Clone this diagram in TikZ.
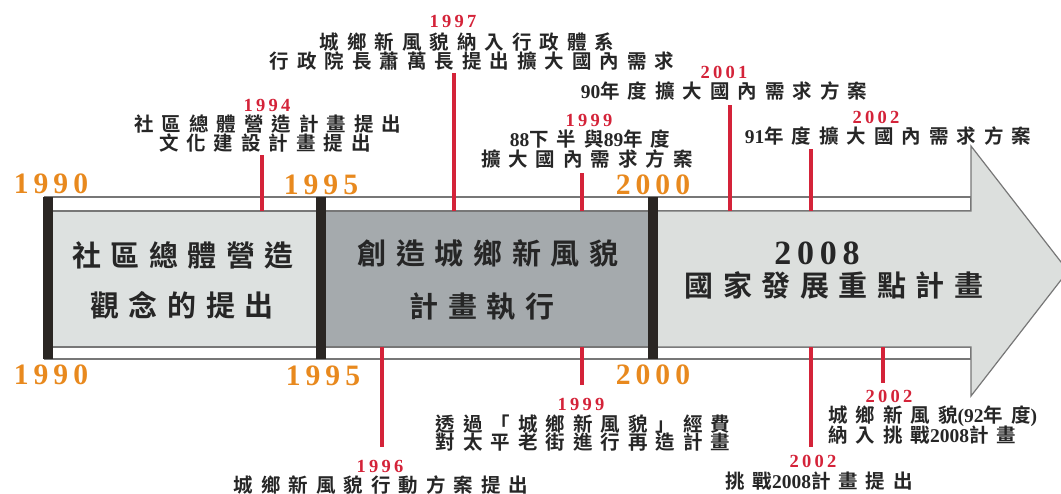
\documentclass[tikz,border=0pt]{standalone}
\usepackage{fontspec}
\newfontfamily\cjkS[LetterSpace=41]{Noto Sans CJK TC Bold}
\newfontfamily\cjkL[LetterSpace=33]{Noto Sans CJK TC Bold}
\newfontfamily\yrO[LetterSpace=17]{Liberation Serif Bold}
\newfontfamily\yrR[LetterSpace=18]{Liberation Serif Bold}
\newfontfamily\dgt{Liberation Serif Bold}
\definecolor{tred}{HTML}{D42339}
\definecolor{torange}{HTML}{E8891E}
\definecolor{tdark}{HTML}{262626}
\definecolor{segA}{HTML}{DDE1E0}
\definecolor{segB}{HTML}{A5AAAD}
\definecolor{segC}{HTML}{DCDFDD}
\definecolor{barc}{HTML}{2A2623}
\definecolor{edgec}{HTML}{777777}
\newcommand\dg[1]{{\dgt\fontsize{19.5}{19.5}\selectfont #1}}
\tikzset{
  edgeline/.style={draw=edgec, line width=1.2pt},
  tbar/.style={fill=barc, draw=none},
  tick/.style={draw=tred, line width=4pt},
  orangeyear/.style={inner sep=0, text=torange, font=\yrO\fontsize{29.6}{30}\selectfont},
  redyear/.style={inner sep=0, text=tred, font=\yrR\fontsize{18.5}{19}\selectfont},
  note/.style={inner sep=0, text=tdark, font=\cjkS\fontsize{19.5}{20}\selectfont},
  bandtext/.style={inner sep=0, text=tdark, font=\cjkL\fontsize{29}{29}\selectfont},
  bigyear/.style={inner sep=0, text=tdark, font=\yrO\fontsize{34}{34}\selectfont},
}
\begin{document}
\begin{tikzpicture}[x=1pt, y=-1pt]
\useasboundingbox (0,0) rectangle (1061,493);
\clip (0,0) rectangle (1061,493);
% strips
\path[edgeline, fill=white] (45,197) rectangle (971,211);
\path[edgeline, fill=white] (45,347) rectangle (971,359);
% arrow body (third segment)
\path[edgeline, fill=segC] (655,211) -- (971,211) -- (971,146) -- (1068,271) -- (971,396) -- (971,347) -- (655,347) -- cycle;
\path[edgeline, fill=segB] (321,211) rectangle (653,347);
\path[edgeline, fill=segA] (48,211) rectangle (321,347);
% bars
\path[tbar] (43,197) rectangle (53,359);
\path[tbar] (316,197) rectangle (326,359);
\path[tbar] (648,197) rectangle (658,359);
% year labels
\node[orangeyear] (o1990t) at (51,184) {1990};
\node[orangeyear] (o1995t) at (321,185) {1995};
\node[orangeyear] (o2000t) at (653,185) {2000};
\node[orangeyear] (o1990b) at (51,375) {1990};
\node[orangeyear] (o1995b) at (323,376) {1995};
\node[orangeyear] (o2000b) at (653,375) {2000};
% band texts
\node[bandtext] (bA1) at (183,255) {社區總體營造};
\node[bandtext] (bA2) at (182,305) {觀念的提出};
\node[bandtext] (bB1) at (488,253) {創造城鄉新風貌};
\node[bandtext] (bB2) at (482,307) {計畫執行};
\node[bigyear] (bC1) at (817,253) {2008};
\node[bandtext] (bC2) at (834,285) {國家發展重點計畫};
% top annotations
\node[redyear] (y1994) at (267,105) {1994};
\node[note] (n1994a) at (268,124) {社區總體營造計畫提出};
\node[note] (n1994b) at (265,143) {文化建設計畫提出};
\node[redyear] (y1997) at (453,21) {1997};
\node[note] (n1997a) at (467,42) {城鄉新風貌納入行政體系};
\node[note] (n1997b) at (472,61) {行政院長蕭萬長提出擴大國內需求};
\node[redyear] (y1999t) at (589,120) {1999};
\node[note] (n1999a) at (590,139) {\dg{88}下半與\dg{89}年度};
\node[note] (n1999b) at (587,159) {擴大國內需求方案};
\node[redyear] (y2001) at (724,72) {2001};
\node[note] (n2001) at (724,91) {\dg{90}年度擴大國內需求方案};
\node[redyear] (y2002t) at (876,117) {2002};
\node[note] (n2002t) at (888,136) {\dg{91}年度擴大國內需求方案};
% bottom annotations
\node[redyear] (y1996) at (380,466) {1996};
\node[note] (n1996) at (381,485) {城鄉新風貌行動方案提出};
\node[redyear] (y1999b) at (581,404) {1999};
\node[note] (n1999c) at (583,424) {透過「城鄉新風貌」經費};
\node[note] (n1999d) at (583,442) {對太平老街進行再造計畫};
\node[redyear] (y2002b) at (813,461) {2002};
\node[note] (n2002b) at (819,481) {挑戰\dg{2008}計畫提出};
\node[redyear] (y2002c) at (889,396) {2002};
\node[note, anchor=west] (n2002c) at (828,416) {城鄉新風貌\dg{(92}年度\dg{)}};
\node[note, anchor=west] (n2002d) at (828,435) {納入挑戰\dg{2008}計畫};
% tick coordinates
\coordinate (k1994s) at (262,211); \coordinate (k1994e) at (262,155);
\coordinate (k1997s) at (454,211); \coordinate (k1997e) at (454,73);
\coordinate (k1999s) at (582,211); \coordinate (k1999e) at (582,173);
\coordinate (k2001s) at (730,211); \coordinate (k2001e) at (730,105);
\coordinate (k2002s) at (811,211); \coordinate (k2002e) at (811,149);
\coordinate (k1996s) at (382,347); \coordinate (k1996e) at (382,447);
\coordinate (k1999bs) at (582,347); \coordinate (k1999be) at (582,385);
\coordinate (k2002bs) at (811,347); \coordinate (k2002be) at (811,447);
\coordinate (k2002cs) at (883,347); \coordinate (k2002ce) at (883,383);
\foreach \k in {1994,1997,1999,2001,2002,1996,1999b,2002b,2002c}
  \draw[tick] (k\k s) -- (k\k e);
\end{tikzpicture}
\end{document}
